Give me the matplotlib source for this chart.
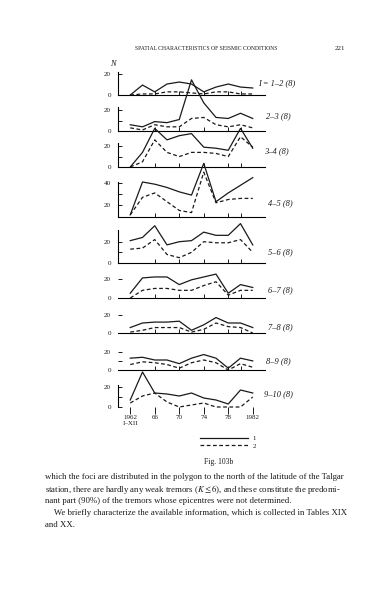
import numpy as np
import matplotlib.pyplot as plt

plt.rcParams['font.family'] = ['Liberation Serif', 'DejaVu Serif']
plt.rcParams['mathtext.fontset'] = 'stix'

W, H = 390, 592

years = [1962, 1964, 1966, 1968, 1970, 1972, 1974, 1976, 1978, 1980, 1982]

# panel labels (energy classes) and series: 1 = solid, 2 = dashed
labels = ['I = 1–2 (8)', '2–3 (8)', '3–4 (8)', '4–5 (8)', '5–6 (8)',
          '6–7 (8)', '7–8 (8)', '8–9 (8)', '9–10 (8)']

s1 = [
    [0, 9.5, 3, 10.5, 12.4, 10.5, 3, 7.6, 10.5, 7.6, 6.7],
    [6, 4, 9, 8, 11, 49, 27, 13, 12, 17, 12],
    [0, 14, 37, 26, 30, 32, 19, 18, 16, 37, 18],
    [11, 41, 39, 36, 32, 29, 58, 23, 31, 38, 45],
    [21, 24, 35, 17, 20, 21, 29, 26, 26, 37, 17],
    [5, 21, 22, 22, 14, 19, 22, 25, 5, 14, 11],
    [6, 11, 12, 12, 13, 3, 9, 17, 11, 11, 6],
    [13, 14, 11, 11, 7, 13, 17, 13, 2, 13, 10],
    [7, 35, 14, 13, 11, 14, 9, 7, 3, 17, 14],
]
s2 = [
    [0, 1, 1, 3, 3, 2, 1, 3, 3, 1, 1],
    [3, 1, 6, 4, 4, 12, 13, 6, 4, 6, 3],
    [0, 5, 26, 14, 10, 14, 14, 13, 10, 29, 19],
    [11, 27, 31, 23, 15, 13, 50, 22, 25, 26, 26],
    [13, 14, 22, 8, 5, 10, 20, 19, 19, 22, 10],
    [0, 8, 10, 10, 8, 8, 13, 17, 3, 8, 8],
    [1, 3, 6, 6, 6, 1, 4, 11, 7, 6, 0],
    [6, 9, 8, 6, 2, 8, 11, 8, 0, 7, 3],
    [4, 11, 14, 5, 0, 2, 4, 0, 0, 0, 10],
]
yticks = [[0, 20], [0, 10, 20], [0, 10, 20], [20, 30, 40], [0, 10, 20],
          [0, 20], [0, 20], [0, 10, 20], [0, 10, 20]]
yticklabels = [['0', '20'], ['0', '', '20'], ['0', '', '20'], ['20', '', '40'],
               ['0', '', '20'], ['0', '20'], ['0', '20'], ['0', '', '20'], ['0', '', '20']]
ylims = [(0, 22), (0, 23), (0, 23), (9, 41), (0, 31), (0, 23), (0, 22), (0, 22), (0, 22)]

# layout in page pixels: baseline and top of each panel
base_px = [95, 131, 167, 217, 263, 298, 333, 370, 407]
top_px = [72, 107, 143, 182, 230, 276, 313, 350, 385]
label_y = [83, 116, 151, 203, 252, 290, 327, 361, 394]
label_x = [258, 266, 264, 268, 268, 268, 268, 266, 264]

fig = plt.figure(figsize=(W / 100, H / 100), dpi=100)
ink = '#1a1a1a'

for i in range(9):
    b = 1 - base_px[i] / H
    h = (base_px[i] - top_px[i]) / H
    ax = fig.add_axes([118 / W, b, (265 - 118) / W, h])
    ax.patch.set_alpha(0)
    ax.plot(years, s1[i], color=ink, lw=0.9, clip_on=False)
    ax.plot(years, s2[i], color=ink, lw=0.9, ls=(0, (3, 2)), clip_on=False)
    ax.set_xlim(1960, 1984)
    ax.set_ylim(*ylims[i])
    ax.set_yticks(yticks[i])
    ax.set_yticklabels(yticklabels[i])
    ax.tick_params(axis='y', direction='in', length=3, width=0.7, pad=5,
                   labelsize=5, colors=ink)
    for sp in ['top', 'right']:
        ax.spines[sp].set_visible(False)
    ax.spines['left'].set_linewidth(0.8)
    ax.spines['bottom'].set_linewidth(0.8)
    if i in (5, 6, 7):
        ax.spines['left'].set_visible(False)
    if i < 8:
        ax.set_xticks([1966, 1970, 1974, 1978, 1980])
        ax.tick_params(axis='x', direction='in', length=3, width=0.7,
                       labelbottom=False, colors=ink)
    else:
        ax.spines['bottom'].set_visible(False)
        ax.set_xticks([1962, 1966, 1970, 1974, 1978, 1982])
        ax.set_xticklabels(['1962\nI–XII', '66', '70', '74', '78', '1982'])
        ax.tick_params(axis='x', direction='out', length=5, width=0.7, pad=1,
                       labelsize=5, colors=ink)
    fig.text(label_x[i] / W, 1 - label_y[i] / H, labels[i], fontsize=6,
             style='italic', color=ink, va='center')

fig.text(110 / W, 1 - 64 / H, 'N', fontsize=6, style='italic', color=ink, va='center')

# legend
h1, = plt.plot([], [], color=ink, lw=0.9)
h2, = plt.plot([], [], color=ink, lw=0.9, ls=(0, (3, 2)))
fig.legend([h1, h2], ['1', '2'], loc='center', bbox_to_anchor=(228 / W, 1 - 442 / H),
           frameon=False, fontsize=5, handlelength=7, handletextpad=0.6,
           labelspacing=0.3, labelcolor=ink)

fig.text(219 / W, 1 - 462 / H, 'Fig. 103b', fontsize=5.5, ha='center', va='center', color=ink)

# running head
fig.text(135 / W, 1 - 49 / H, 'SPATIAL CHARACTERISTICS OF SEISMIC CONDITIONS',
         fontsize=4.1, va='center', color=ink)
fig.text(345 / W, 1 - 49 / H, '221', fontsize=5, ha='right', va='center', color=ink)

body = [
    'which the foci are distributed in the polygon to the north of the latitude of the Talgar',
    'station, there are hardly any weak tremors ($K \\leq 6$), and these constitute the predomi-',
    'nant part (90%) of the tremors whose epicentres were not determined.',
    '    We briefly characterize the available information, which is collected in Tables XIX',
    'and XX.',
]
for k, line in enumerate(body):
    fig.text(45 / W, 1 - (477 + 12 * k) / H, line, fontsize=6.3, va='center', color=ink)

fig.savefig('out.png', dpi=100)
